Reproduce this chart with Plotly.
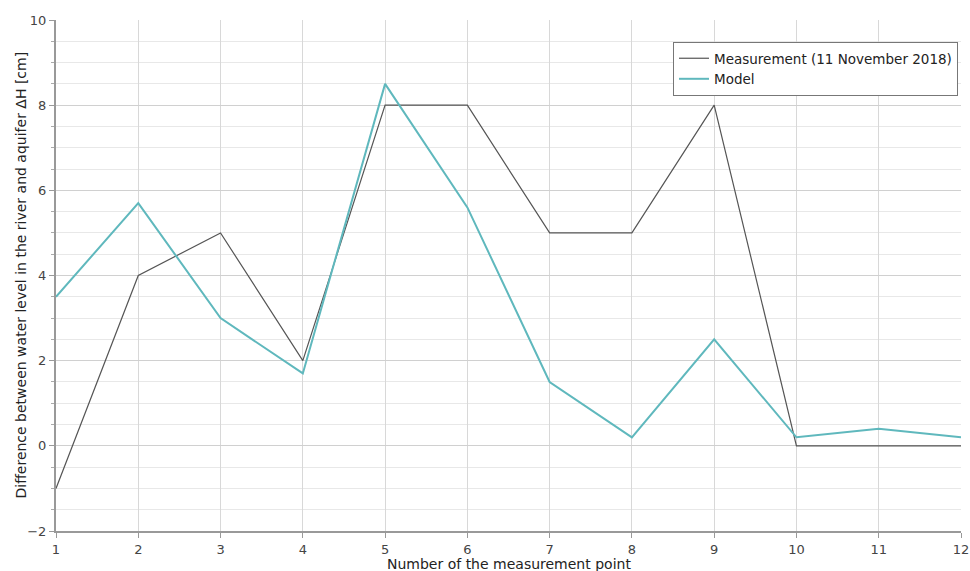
import plotly.graph_objects as go

points = list(range(1, 13))
measurement = [-1, 4, 5, 2, 8, 8, 5, 5, 8, 0, 0, 0]
model = [3.5, 5.7, 3.0, 1.7, 8.5, 5.6, 1.5, 0.2, 2.5, 0.2, 0.4, 0.2]

x_title = "Number of the measurement point"
y_title = "Difference between water level in the river and aquifer ΔH [cm]"

font = "DejaVu Sans"

fig = go.Figure()
fig.add_trace(go.Scatter(x=points, y=measurement, mode="lines",
                         name="Measurement (11 November 2018)",
                         line=dict(color="#555555", width=1.2)))
fig.add_trace(go.Scatter(x=points, y=model, mode="lines", name="Model",
                         line=dict(color="#5fb8bd", width=2)))

fig.update_layout(
    width=970, height=571,
    margin=dict(l=56, r=9, t=20, b=40, autoexpand=False),
    plot_bgcolor="white", paper_bgcolor="white",
    font=dict(family=font, size=13, color="#444444"),
    showlegend=True,
    legend=dict(x=0.9967, y=0.957, xanchor="right", yanchor="top",
                bgcolor="white", bordercolor="#777777", borderwidth=1,
                font=dict(size=13.5, color="#222222"), itemwidth=30,
                tracegroupgap=0),
    annotations=[
        dict(text=x_title, xref="paper", yref="paper", x=0.5, y=0,
             xanchor="center", yanchor="top", yshift=-23, showarrow=False,
             font=dict(size=14, color="#222222")),
        dict(text=y_title, xref="paper", yref="paper", x=0, y=0.5,
             xanchor="center", yanchor="middle", xshift=-36, textangle=-90,
             showarrow=False, font=dict(size=14, color="#222222")),
    ],
)
fig.update_xaxes(
    range=[1, 12], tickmode="linear", dtick=1, tick0=1,
    showgrid=True, gridcolor="#d8d8d8", gridwidth=1,
    showline=True, linecolor="#999999", linewidth=2,
    ticks="outside", ticklen=5, tickcolor="#999999",
    zeroline=False, automargin=False, ticklabeloverflow="allow",
)
fig.update_yaxes(
    range=[-2, 10], tickmode="linear", dtick=2, tick0=0,
    showgrid=True, gridcolor="#d0d0d0", gridwidth=1,
    showline=True, linecolor="#999999", linewidth=2,
    ticks="outside", ticklen=5, tickcolor="#999999",
    zeroline=False, automargin=False,
    minor=dict(dtick=0.5, showgrid=True, gridcolor="#e8e8e8",
               ticks="outside", ticklen=3, tickcolor="#aaaaaa"),
)

fig.write_html("out.html", config={"displayModeBar": False},
               post_script="document.body.style.margin='0';document.body.style.overflow='hidden';")
